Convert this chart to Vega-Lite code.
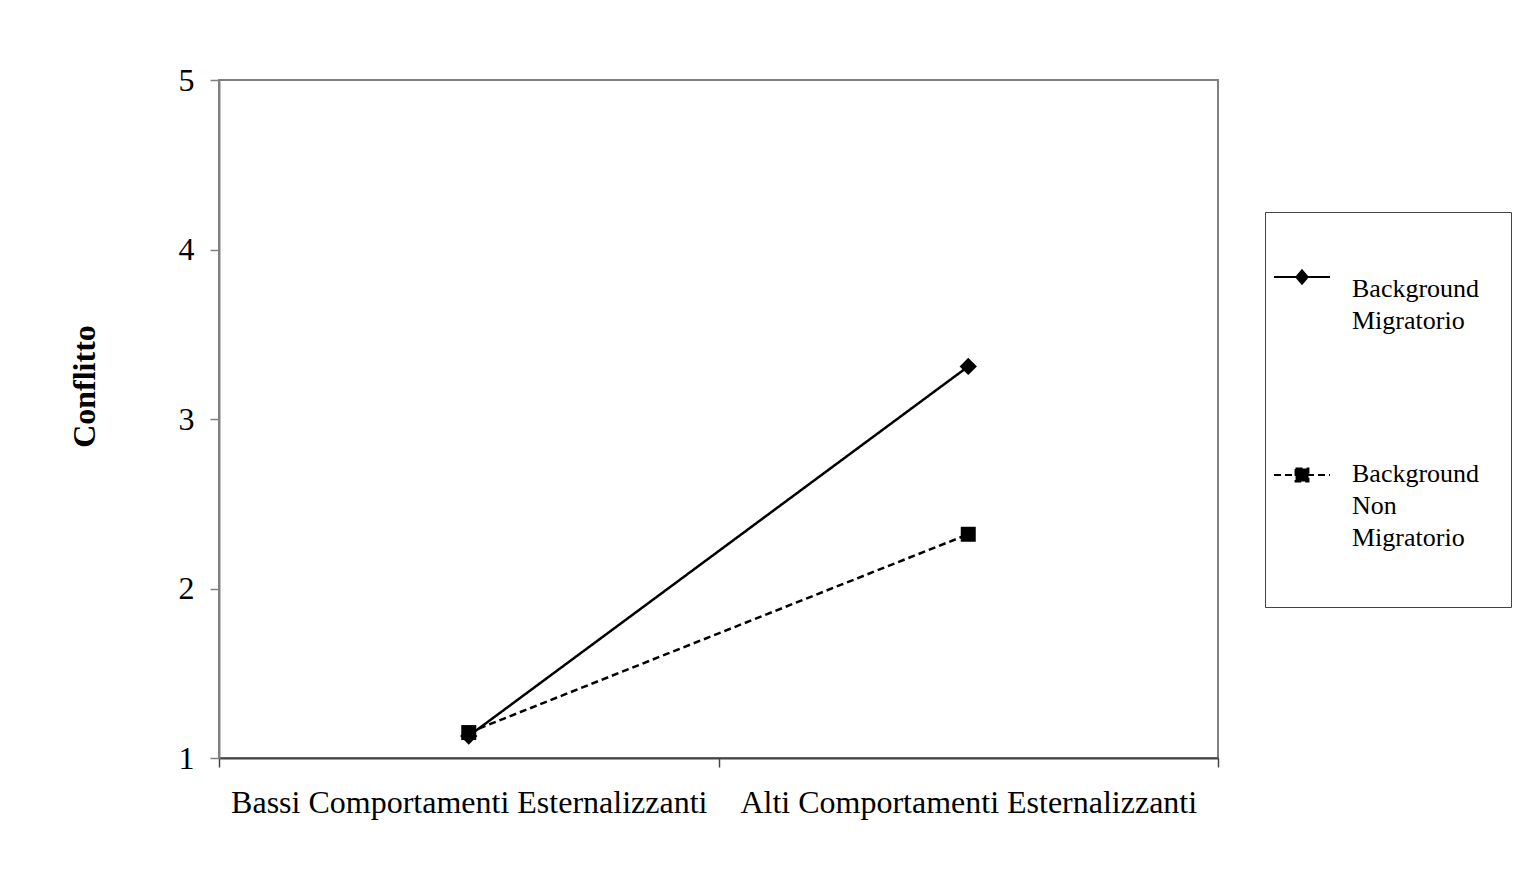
{
  "$schema": "https://vega.github.io/schema/vega-lite/v6.json",
  "width": 999,
  "height": 678,
  "autosize": {"type": "none"},
  "padding": {"left": 219, "top": 80, "right": 305, "bottom": 120},
  "background": "white",
  "data": {
    "values": [
      {"livello": "Bassi Comportamenti Esternalizzanti", "gruppo": "Background Migratorio", "conflitto": 1.13},
      {"livello": "Alti Comportamenti Esternalizzanti", "gruppo": "Background Migratorio", "conflitto": 3.31},
      {"livello": "Bassi Comportamenti Esternalizzanti", "gruppo": "Background Non Migratorio", "conflitto": 1.15},
      {"livello": "Alti Comportamenti Esternalizzanti", "gruppo": "Background Non Migratorio", "conflitto": 2.32}
    ]
  },
  "encoding": {
    "x": {
      "field": "livello",
      "type": "nominal",
      "sort": ["Bassi Comportamenti Esternalizzanti", "Alti Comportamenti Esternalizzanti"],
      "scale": {"type": "band", "paddingInner": 0, "paddingOuter": 0},
      "axis": {
        "title": null,
        "labelAngle": 0,
        "tickBand": "extent",
        "domainColor": "#444444",
        "domainWidth": 2,
        "tickColor": "#444444",
        "tickWidth": 1.5,
        "tickSize": 9,
        "labelPadding": 20,
        "labelFont": "Liberation Serif",
        "labelFontSize": 32,
        "labelColor": "black",
        "labelLimit": 600
      }
    },
    "y": {
      "field": "conflitto",
      "type": "quantitative",
      "scale": {"domain": [1, 5], "nice": false, "zero": false},
      "axis": {
        "title": "Conflitto",
        "values": [1, 2, 3, 4, 5],
        "grid": false,
        "domainColor": "#808080",
        "domainWidth": 2,
        "tickColor": "#808080",
        "tickWidth": 1.5,
        "tickSize": 9,
        "labelPadding": 16,
        "labelFont": "Liberation Serif",
        "labelFontSize": 32,
        "labelColor": "black",
        "titleFont": "Liberation Serif",
        "titleFontSize": 32,
        "titleFontWeight": "bold",
        "titleColor": "black",
        "titleAngle": -90,
        "titleAlign": "center",
        "titleBaseline": "alphabetic",
        "titleX": -125,
        "titleY": 306
      }
    }
  },
  "layer": [
    {
      "mark": {"type": "line", "color": "black", "strokeWidth": 2.5},
      "encoding": {
        "detail": {"field": "gruppo"},
        "strokeDash": {
          "field": "gruppo",
          "type": "nominal",
          "scale": {"domain": ["Background Migratorio", "Background Non Migratorio"], "range": [[1, 0], [7, 4]]},
          "legend": {
            "title": null,
            "orient": "none",
            "legendX": 1046,
            "legendY": 132,
            "padding": 31,
            "fillColor": "white",
            "strokeColor": "#444444",
            "symbolSize": 3136,
            "symbolOffset": -23,
            "symbolStrokeWidth": 2,
            "symbolStrokeColor": "black",
            "symbolFillColor": "black",
            "labelOffset": 21,
            "labelFont": "Liberation Serif",
            "labelFontSize": 26,
            "labelColor": "black",
            "labelBaseline": "top",
            "labelLimit": 400,
            "rowPadding": 107,
            "labelExpr": "datum.value === 'Background Migratorio' ? ['Background', 'Migratorio'] : ['Background', 'Non', 'Migratorio']",
            "encode": {
              "symbols": {
                "update": {
                  "shape": {"signal": "datum.value === 'Background Migratorio' ? 'M-1,0.18H1M0,-0.06L0.2,0.18L0,0.42L-0.2,0.18Z' : 'M-1,0.18H1M-0.23,-0.05H0.23V0.41H-0.23ZM0,3.61'"},
                  "size": {"value": 3136},
                  "fill": {"value": "black"},
                  "stroke": {"value": "black"},
                  "strokeWidth": {"value": 2},
                  "opacity": {"value": 1}
                }
              },
              "labels": {
                "update": {
                  "lineHeight": {"value": 32},
                  "dy": {"signal": "datum.value === 'Background Migratorio' ? 4 : -9"}
                }
              }
            }
          }
        }
      }
    },
    {
      "transform": [{"filter": "datum.gruppo === 'Background Migratorio'"}],
      "mark": {"type": "point", "filled": true, "color": "black", "opacity": 1, "shape": "diamond", "size": 300}
    },
    {
      "transform": [{"filter": "datum.gruppo === 'Background Non Migratorio'"}],
      "mark": {"type": "point", "filled": true, "color": "black", "opacity": 1, "shape": "square", "size": 225}
    }
  ],
  "config": {
    "view": {"stroke": "#808080", "strokeWidth": 2}
  }
}
